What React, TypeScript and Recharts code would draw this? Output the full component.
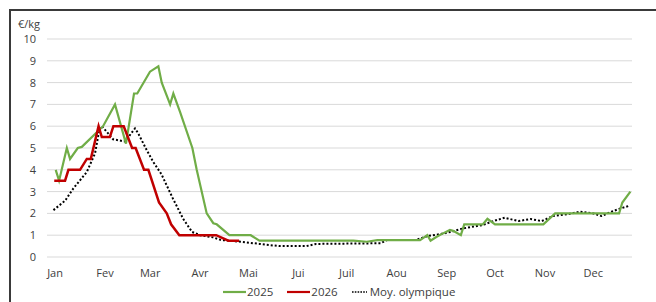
import { CartesianGrid, Line, LineChart, XAxis, YAxis } from "recharts";

// jours de l'année (x) et prix en €/kg (y)
const days2025 = [1.4, 3.5, 8.3, 10.3, 15.1, 17.6, 30.8, 38.2, 45, 50, 52, 59.9, 65.1, 67.2, 72.4, 74.4, 78.6, 86.2, 88.9, 95.1, 99.2, 101.3, 109.2, 122.4, 127.8, 186.1, 194.4, 201, 227.5, 232, 234, 237.8, 240.9, 246, 248, 252.8, 254.9, 266.5, 269.3, 274, 304, 311.3, 351, 353, 358];
const prices2025 = [4.0, 3.5, 5.0, 4.5, 5.0, 5.05, 6.0, 7.0, 5.2, 7.5, 7.5, 8.5, 8.75, 8.0, 7.0, 7.5, 6.65, 5.0, 4.0, 2.0, 1.55, 1.5, 1.0, 1.0, 0.75, 0.75, 0.7, 0.77, 0.77, 1.0, 0.75, 0.93, 1.05, 1.24, 1.2, 1.0, 1.5, 1.5, 1.75, 1.5, 1.5, 2.0, 2.0, 2.5, 3.0];

const days2026 = [0.5, 7.2, 9.3, 16.5, 20.7, 23.2, 28, 30, 35, 37.2, 43.6, 48.8, 51, 56.2, 58.9, 65.5, 70.3, 73, 78.1, 101, 108.5, 115.2];
const prices2026 = [3.5, 3.5, 4.0, 4.0, 4.5, 4.5, 6.0, 5.5, 5.5, 6.0, 6.0, 5.0, 5.0, 4.0, 4.0, 2.5, 2.0, 1.5, 1.0, 1.0, 0.75, 0.75];

const daysMoy = [0, 7.2, 12.4, 20.7, 25.8, 28.5, 30, 33, 37, 44, 46.5, 50.6, 52.6, 57.9, 62, 67, 74, 80.5, 86, 91, 99, 104, 116, 128, 140, 157, 163, 203, 207, 225, 232, 240, 247, 254, 266.5, 273, 280, 288.5, 296, 303, 310, 318.5, 327, 335, 340, 347, 352, 357];
const pricesMoy = [2.15, 2.58, 3.15, 3.9, 4.75, 5.85, 6.0, 5.75, 5.4, 5.3, 5.5, 5.9, 5.67, 4.9, 4.35, 3.8, 2.7, 1.75, 1.15, 1.0, 0.9, 0.78, 0.7, 0.6, 0.5, 0.5, 0.6, 0.63, 0.78, 0.78, 0.96, 1.05, 1.16, 1.31, 1.47, 1.65, 1.8, 1.65, 1.74, 1.65, 1.88, 1.96, 2.08, 2.0, 1.88, 2.1, 2.23, 2.34];

const monthStarts = [1, 32, 60, 91, 121, 152, 182, 213, 244, 274, 305, 335];
const monthLabels = ["Jan", "Fev", "Mar", "Avr", "Mai", "Jui", "Juil", "Aou", "Sep", "Oct", "Nov", "Dec"];
const yTicks = [0, 1, 2, 3, 4, 5, 6, 7, 8, 9, 10];

const toPoints = (days: number[], values: number[]) =>
  days.map((day, i) => ({ day, v: values[i] }));

const data2025 = toPoints(days2025, prices2025);
const data2026 = toPoints(days2026, prices2026);
const dataMoy = toPoints(daysMoy, pricesMoy);

const FONT = "'Open Sans', sans-serif";
const TEXT = "#404040";

function LegendSample({ color, dashed }: { color: string; dashed?: boolean }) {
  return (
    <svg width={dashed ? 15 : 23} height={6} style={{ display: "block" }}>
      <line
        x1={0}
        y1={3}
        x2={dashed ? 15 : 23}
        y2={3}
        stroke={color}
        strokeWidth={dashed ? 1.6 : 2.2}
        strokeDasharray={dashed ? "1.6 1.2" : undefined}
      />
    </svg>
  );
}

export default function App() {
  return (
    <div
      style={{
        position: "absolute",
        left: 0,
        top: 0,
        width: 656,
        height: 302,
        overflow: "hidden",
        background: "#fff",
        fontFamily: FONT,
      }}
    >
      {/* cadre */}
      <div
        style={{
          position: "absolute",
          left: 9,
          top: 9,
          width: 700,
          height: 400,
          border: "2px solid #3a3a3a",
        }}
      />
      <div
        style={{
          position: "absolute",
          left: 18,
          top: 18,
          fontSize: 11,
          lineHeight: "12px",
          color: TEXT,
        }}
      >
        €/kg
      </div>

      <div style={{ position: "absolute", left: 0, top: 0 }}>
        <LineChart
          width={656}
          height={302}
          margin={{ top: 39, right: 24, bottom: 15, left: 17 }}
        >
          <CartesianGrid vertical={false} stroke="#d9d9d9" strokeWidth={1} />
          <XAxis
            type="number"
            dataKey="day"
            domain={[-4, 359]}
            ticks={monthStarts}
            tickFormatter={(d: number) => monthLabels[monthStarts.indexOf(d)]}
            axisLine={false}
            tickLine={false}
            tickSize={0}
            tickMargin={12}
            height={30}
            interval={0}
            tick={{ fontSize: 11, fill: TEXT, fontFamily: FONT }}
          />
          <YAxis
            type="number"
            domain={[0, 10]}
            ticks={yTicks}
            axisLine={false}
            tickLine={false}
            tickSize={0}
            tickMargin={11}
            width={30}
            interval={0}
            tick={{ fontSize: 11, fill: TEXT, fontFamily: FONT }}
          />
          <Line
            data={dataMoy}
            dataKey="v"
            type="linear"
            stroke="#000"
            strokeWidth={2}
            strokeDasharray="2 2"
            dot={false}
            isAnimationActive={false}
          />
          <Line
            data={data2025}
            dataKey="v"
            type="linear"
            stroke="#70ad47"
            strokeWidth={2.2}
            dot={false}
            isAnimationActive={false}
          />
          <Line
            data={data2026}
            dataKey="v"
            type="linear"
            stroke="#c00000"
            strokeWidth={2.5}
            dot={false}
            isAnimationActive={false}
          />
        </LineChart>
      </div>

      {/* légende */}
      <div
        style={{
          position: "absolute",
          left: 223,
          top: 284,
          display: "flex",
          alignItems: "center",
          fontSize: 11.5,
          color: TEXT,
          lineHeight: "16px",
        }}
      >
        <LegendSample color="#70ad47" />
        <span style={{ marginLeft: 1 }}>2025</span>
        <span style={{ width: 14 }} />
        <LegendSample color="#c00000" />
        <span style={{ marginLeft: 1 }}>2026</span>
        <span style={{ width: 14 }} />
        <LegendSample color="#000" dashed />
        <span style={{ marginLeft: 3 }}>Moy. olympique</span>
      </div>
    </div>
  );
}
